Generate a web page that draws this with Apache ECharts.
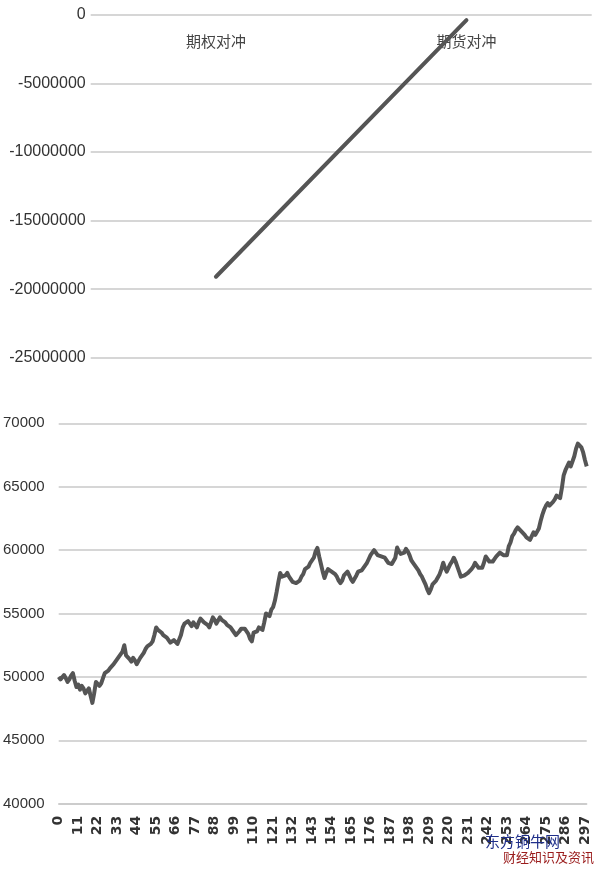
<!DOCTYPE html>
<html>
<head>
<meta charset="utf-8">
<script src="https://cdn.jsdelivr.net/npm/echarts@6/dist/echarts.min.js"></script>
<style>html,body{margin:0;padding:0;background:#fff;}#c{width:600px;height:872px;}</style>
</head>
<body>
<div id="c"></div>
<script>
// Top chart: hedging comparison
var hedgeCategories = ['期权对冲', '期货对冲'];
var hedgeValues = [-19100000, -400000];
var topTicks = [0, -5000000, -10000000, -15000000, -20000000, -25000000];

// Bottom chart: price path
var priceValues = [
50000, 49800, 49700, 50150, 49900, 49600, 49800, 50100, 50300, 49700,
49200, 49400, 49000, 49300, 49100, 48700, 48900, 49100, 48500, 47950,
48700, 49600, 49700, 49300, 49500, 49900, 50300, 50200, 50500, 50700,
50600, 51000, 51100, 51400, 51600, 51500, 52000, 52500, 51700, 51800,
51400, 51200, 51500, 51300, 51000, 51100, 51500, 51700, 51900, 52200,
52400, 52300, 52600, 52800, 53300, 53900, 53700, 53600, 53500, 53300,
53400, 53100, 53000, 52700, 52800, 52900, 53000, 52600, 52500, 53300,
53900, 54200, 54100, 54400, 54200, 54000, 54300, 54100, 53900, 54300,
54600, 54500, 54300, 54400, 54100, 53900, 54300, 54700, 54500, 54200,
54300, 54700, 54500, 54400, 54300, 54100, 54000, 53900, 53700, 53500,
53300, 53400, 53600, 53800, 53900, 53800, 53700, 53400, 53000, 52800,
53500, 53400, 53600, 53900, 53800, 53700, 54300, 55000, 54900, 54800,
55300, 55500, 56000, 56700, 57500, 58200, 57900, 57800, 58000, 58200,
57900, 57700, 57500, 57600, 57400, 57300, 57600, 57900, 58100, 58500,
58400, 58700, 59000, 58900, 59400, 59900, 60170, 59500, 58900, 58300,
57800, 58200, 58500, 58600, 58300, 58400, 58100, 57900, 57600, 57400,
57600, 58000, 57900, 58300, 58000, 57700, 57500, 57600, 58000, 58300,
58200, 58400, 58600, 58800, 59000, 59300, 59600, 59800, 60000, 59800,
59600, 59700, 59500, 59500, 59400, 59200, 59000, 59100, 58900, 58800,
59400, 60200, 59900, 59700, 59600, 59800, 60100, 59900, 59600, 59200,
59000, 58800, 58600, 58400, 58100, 57900, 57600, 57300, 56900, 56600,
56900, 57300, 57400, 57600, 57700, 58100, 58500, 59000, 58600, 58300,
58600, 58900, 59100, 59400, 59100, 58700, 58300, 57900, 57800, 58000,
58100, 58200, 58300, 58500, 58700, 59000, 58800, 58600, 58500, 58600,
59000, 59500, 59300, 59100, 59000, 59100, 59300, 59500, 59600, 59800,
59700, 59600, 59500, 59600, 60300, 60600, 61100, 61300, 61600, 61800,
61700, 61500, 61400, 61200, 61000, 60900, 60800, 61100, 61400, 61200,
61100, 61700, 62300, 62800, 63200, 63500, 63700, 63500, 63400, 63800,
64000, 64300, 64200, 64100, 64900, 65900, 66300, 66600, 66900, 66600,
66700, 67400, 68000, 68400, 68300, 68100, 67700, 67100, 66600
];
var priceCategories = priceValues.map(function (v, i) { return String(i); });
var bottomTicks = [40000, 45000, 50000, 55000, 60000, 65000, 70000];

var gridColor = '#c9c9c9';
var lineColor = '#555555';
var textColor = '#333333';
function plain(v) { return String(v); }

var chart = echarts.init(document.getElementById('c'));
chart.setOption({
  backgroundColor: '#ffffff',
  animation: false,
  grid: [
    { left: 90.7, right: 8.3, top: 14.7, bottom: 514.3, containLabel: false },
    { left: 57.3, right: 13.3, top: 423.3, bottom: 68.3, containLabel: false }
  ],
  xAxis: [
    {
      gridIndex: 0, type: 'category', data: hedgeCategories, position: 'top',
      boundaryGap: true,
      axisLine: { show: false }, axisTick: { show: false },
      axisLabel: { inside: true, margin: 19, fontSize: 15, color: '#444', fontFamily: 'Noto Sans CJK SC' },
      splitLine: { show: false }
    },
    {
      gridIndex: 1, type: 'category', data: priceCategories, boundaryGap: false,
      axisLine: { show: true, lineStyle: { color: gridColor, width: 1.5 } },
      axisTick: { show: false },
      axisLabel: { interval: 10, rotate: 90, margin: 12, fontSize: 14, fontWeight: 'bold', color: textColor, fontFamily: 'DejaVu Sans' },
      splitLine: { show: false }
    }
  ],
  yAxis: [
    {
      gridIndex: 0, type: 'value', min: topTicks[topTicks.length - 1], max: topTicks[0], interval: 5000000,
      axisLine: { show: false }, axisTick: { show: false },
      axisLabel: { margin: 5, fontSize: 16, color: textColor, fontFamily: 'Liberation Sans', formatter: plain },
      splitLine: { show: true, lineStyle: { color: gridColor, width: 1.5 } }
    },
    {
      gridIndex: 1, type: 'value', min: bottomTicks[0], max: bottomTicks[bottomTicks.length - 1], interval: 5000,
      axisLine: { show: false }, axisTick: { show: false },
      axisLabel: { margin: 14, fontSize: 15, color: textColor, fontFamily: 'Liberation Sans', formatter: plain },
      splitLine: { show: true, lineStyle: { color: gridColor, width: 1.5 } }
    }
  ],
  series: [
    {
      type: 'line', xAxisIndex: 0, yAxisIndex: 0, data: hedgeValues,
      symbol: 'none', lineStyle: { color: lineColor, width: 4, cap: 'round' }, z: 5
    },
    {
      type: 'line', xAxisIndex: 1, yAxisIndex: 1, data: priceValues,
      symbol: 'none', lineStyle: { color: lineColor, width: 4, join: 'round' }, z: 5
    }
  ],
  graphic: [
    { type: 'text', left: 485, top: 834, style: { text: '东方铜牛网', fill: '#1f2f8a', font: '15px "Noto Sans CJK SC"' }, z: 10 },
    { type: 'text', left: 503, top: 851, style: { text: '财经知识及资讯', fill: '#9a1c1c', font: '13px "Noto Sans CJK SC"' }, z: 10 }
  ]
});
</script>
</body>
</html>
